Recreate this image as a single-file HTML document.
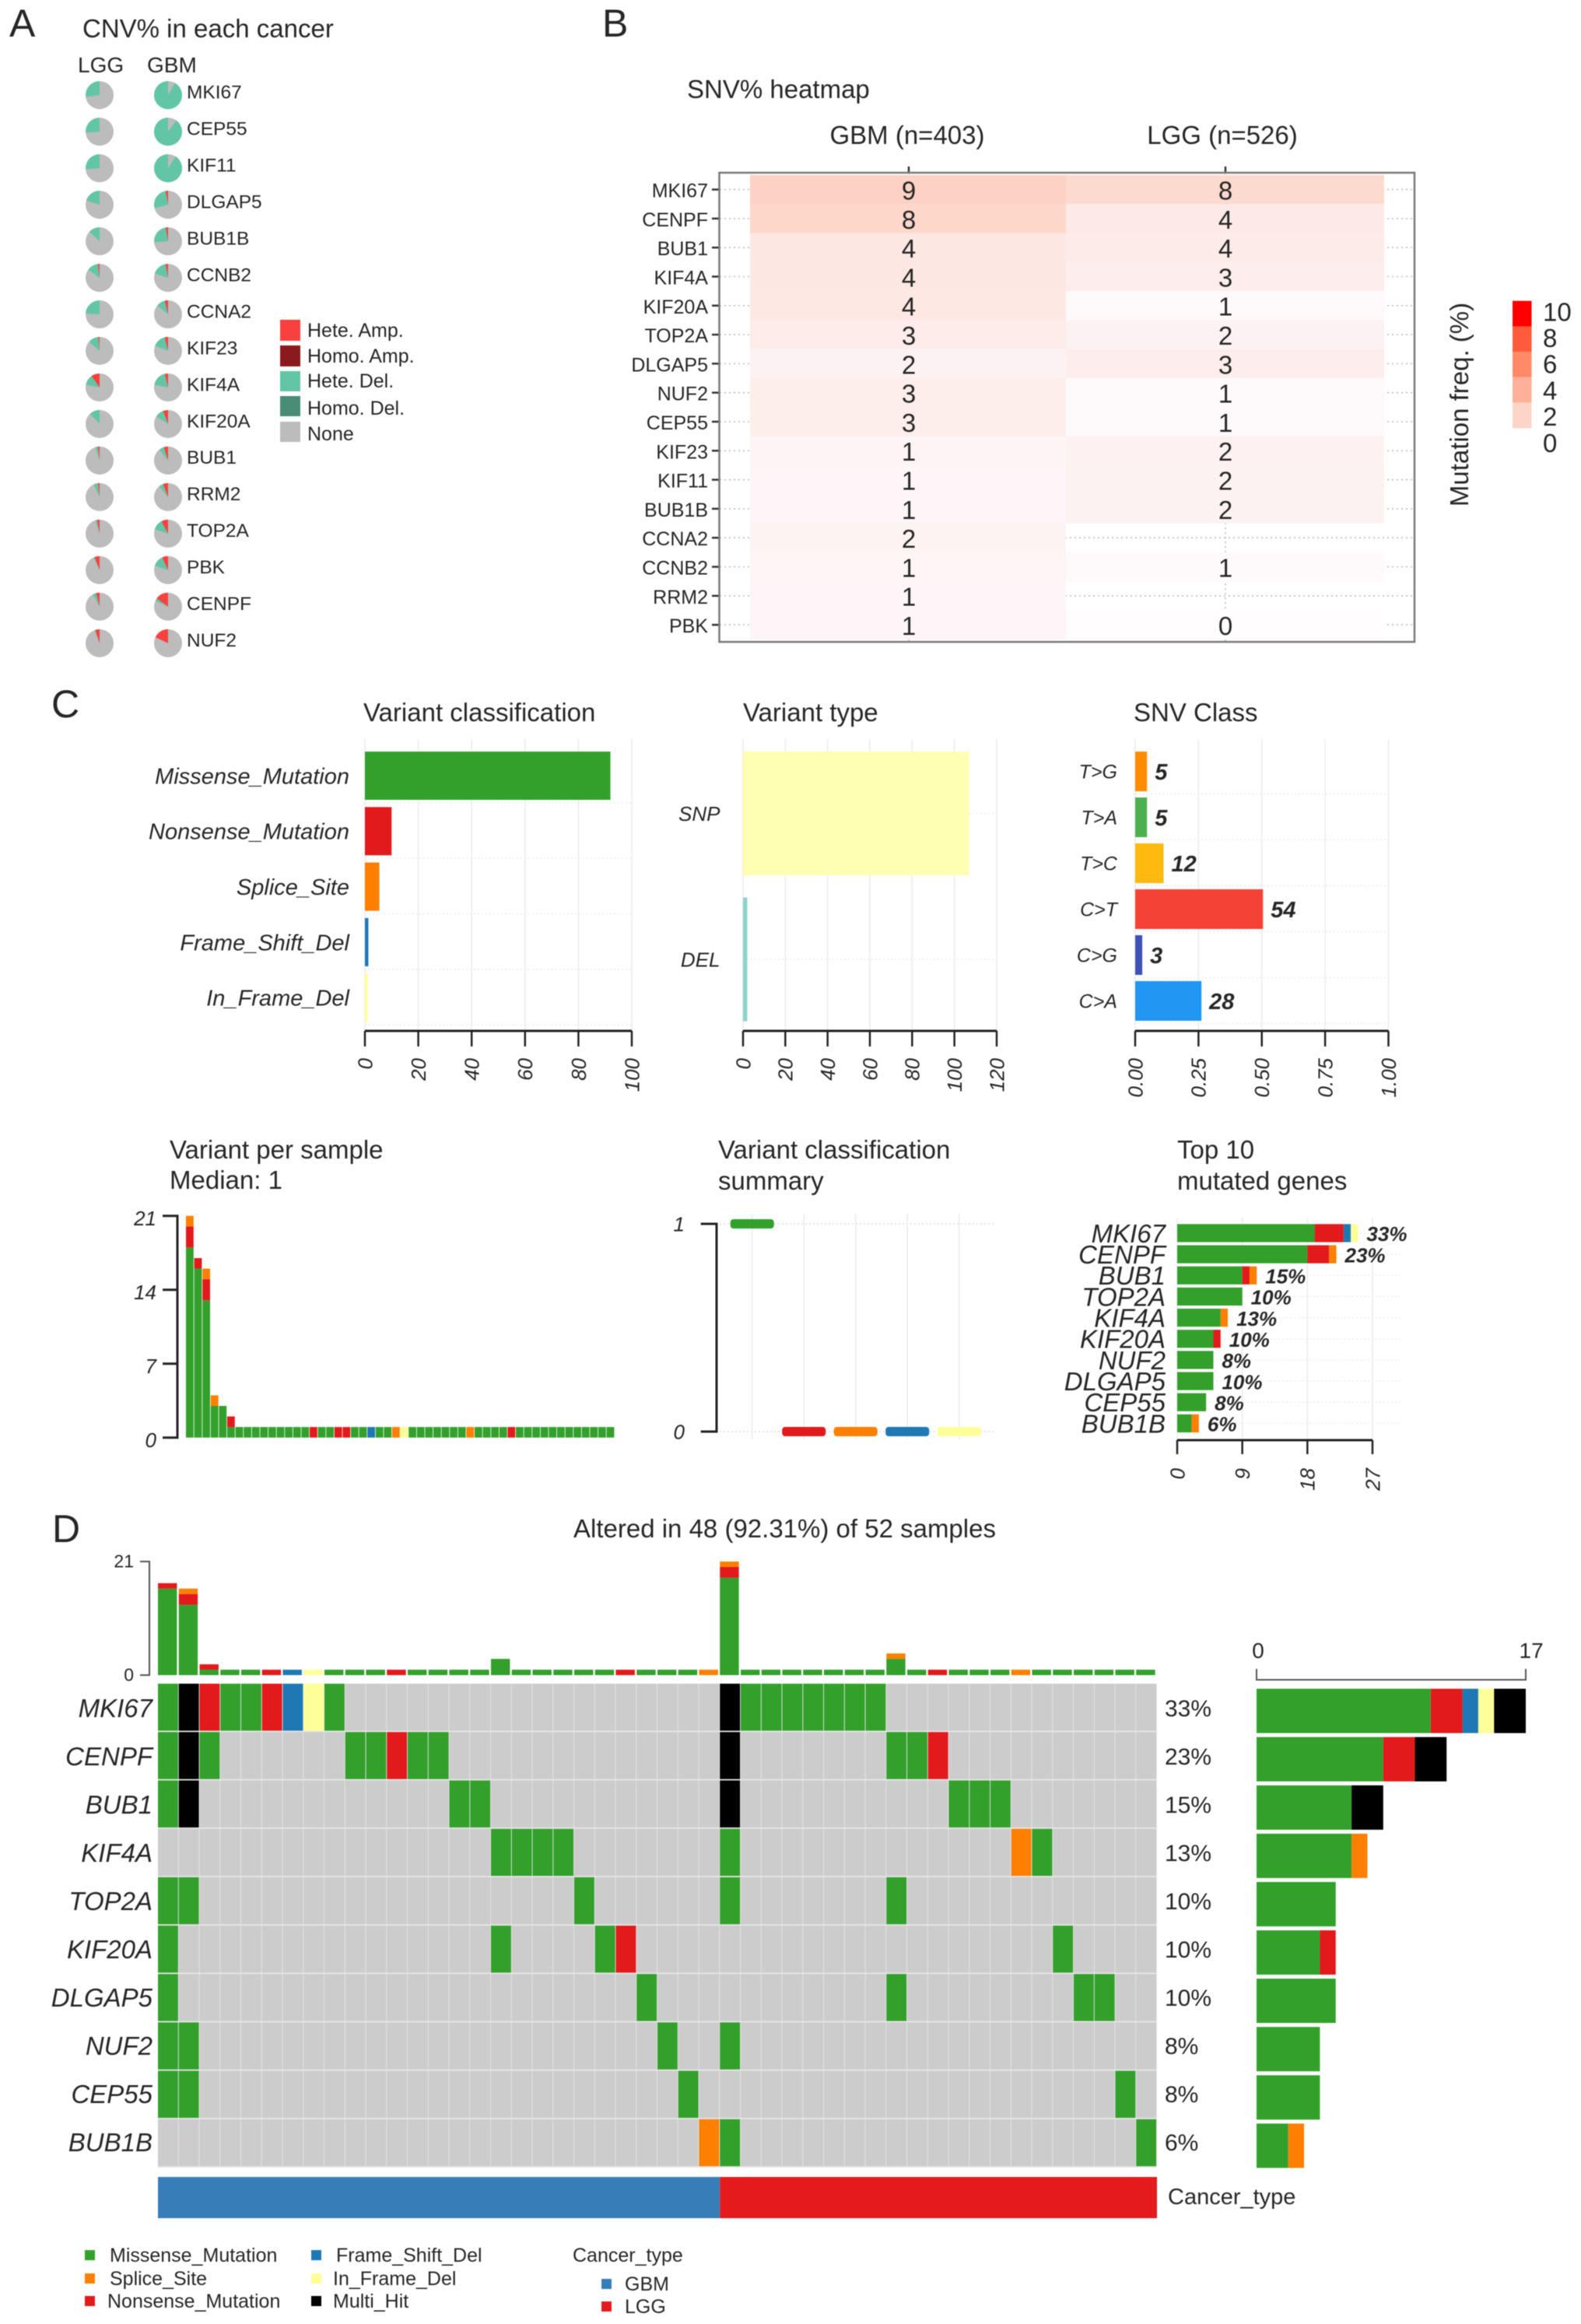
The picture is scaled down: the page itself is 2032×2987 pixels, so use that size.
<!DOCTYPE html>
<html lang="en">
<head>
<meta charset="utf-8">
<title>CNV and SNV summary figure</title>
<style>
html,body{margin:0;padding:0;background:#fff;overflow:hidden}
svg{display:block;filter:blur(0.6px)}
text{font-family:"Liberation Sans",Arial,sans-serif;fill:#262626}
</style>
</head>
<body>
<svg id="fig" xmlns="http://www.w3.org/2000/svg" width="2032" height="2987" viewBox="0 0 2032 2987">
<rect x="0" y="0" width="2032" height="2987" fill="#fff"/>

<text x="12" y="47" font-size="50">A</text>
<text x="774" y="47" font-size="50">B</text>
<text x="66" y="922" font-size="50">C</text>
<text x="67" y="1982" font-size="50">D</text>

<text x="106" y="48" font-size="33">CNV% in each cancer</text>
<text x="100" y="93" font-size="28">LGG</text>
<text x="189" y="93" font-size="28">GBM</text>
<g>
<rect x="360" y="411" width="26" height="27" fill="#f8403f"/>
<rect x="360" y="444" width="26" height="27" fill="#8a1a1e"/>
<rect x="360" y="477" width="26" height="26" fill="#62c6a6"/>
<rect x="360" y="509" width="26" height="26" fill="#4a8d76"/>
<rect x="360" y="542" width="26" height="26" fill="#bcbcbc"/>
<text x="395" y="433" font-size="25">Hete. Amp.</text>
<text x="395" y="466" font-size="25">Homo. Amp.</text>
<text x="395" y="498" font-size="25">Hete. Del.</text>
<text x="395" y="533" font-size="25">Homo. Del.</text>
<text x="395" y="566" font-size="25">None</text>
</g>

<text x="883" y="126" font-size="33">SNV% heatmap</text>
<text x="1166" y="185" font-size="33" text-anchor="middle">GBM (n=403)</text>
<text x="1571" y="185" font-size="33" text-anchor="middle">LGG (n=526)</text>
<text x="1887" y="520" font-size="33" text-anchor="middle" transform="rotate(-90 1887 520)">Mutation freq. (%)</text>

<text x="467" y="927" font-size="33">Variant classification</text>
<text x="955" y="927" font-size="33">Variant type</text>
<text x="1457" y="927" font-size="33">SNV Class</text>
<text x="218" y="1489" font-size="33">Variant per sample</text>
<text x="218" y="1528" font-size="33">Median: 1</text>
<text x="923" y="1489" font-size="33">Variant classification</text>
<text x="923" y="1529" font-size="33">summary</text>
<text x="1513" y="1489" font-size="33">Top 10</text>
<text x="1513" y="1529" font-size="33">mutated genes</text>

<text x="1008.5" y="1976" font-size="33" text-anchor="middle">Altered in 48 (92.31%) of 52 samples</text>
<text x="1501" y="2833" font-size="29">Cancer_type</text>

<g>
<rect x="109" y="2892" width="13" height="13" fill="#33a02c"/>
<rect x="109" y="2922" width="13" height="13" fill="#ff7f00"/>
<rect x="109" y="2951" width="13" height="13" fill="#e31a1c"/>
<rect x="400" y="2892" width="13" height="13" fill="#1f78b4"/>
<rect x="400" y="2922" width="13" height="13" fill="#ffff99"/>
<rect x="400" y="2951" width="13" height="13" fill="#000"/>
<rect x="773" y="2929" width="13" height="13" fill="#377eb8"/>
<rect x="773" y="2958" width="13" height="13" fill="#e41a1c"/>
<text x="141" y="2907" font-size="25">Missense_Mutation</text>
<text x="141" y="2937" font-size="25">Splice_Site</text>
<text x="138" y="2966" font-size="25">Nonsense_Mutation</text>
<text x="432" y="2907" font-size="25">Frame_Shift_Del</text>
<text x="428" y="2937" font-size="25">In_Frame_Del</text>
<text x="428" y="2966" font-size="25">Multi_Hit</text>
<text x="736" y="2907" font-size="25">Cancer_type</text>
<text x="803" y="2944" font-size="25">GBM</text>
<text x="803" y="2973" font-size="25">LGG</text>
</g>
<g id="charts"></g>
</svg>

<script>
/* ---------- Panel A data ---------- */
const pieGenes = ['MKI67','CEP55','KIF11','DLGAP5','BUB1B','CCNB2','CCNA2','KIF23','KIF4A','KIF20A','BUB1','RRM2','TOP2A','PBK','CENPF','NUF2'];
const lggHeteAmp = [0,0,0,0,0,0.02,0,0.015,0.1,0,0.02,0.02,0.03,0.06,0.04,0.05];
const lggHeteDel = [0.27,0.26,0.26,0.2,0.13,0.13,0.24,0.12,0.12,0.12,0.03,0.05,0.02,0.01,0.04,0.01];
const gbmHeteAmp = [0,0,0,0.03,0.03,0.03,0.04,0.04,0.04,0.06,0.05,0.06,0.08,0.07,0.15,0.18];
const gbmHeteDel = [0.92,0.9,0.91,0.26,0.23,0.17,0.1,0.15,0.18,0.1,0.06,0.05,0.12,0.13,0.03,0];

/* ---------- Panel B data ---------- */
const heatGenes = ['MKI67','CENPF','BUB1','KIF4A','KIF20A','TOP2A','DLGAP5','NUF2','CEP55','KIF23','KIF11','BUB1B','CCNA2','CCNB2','RRM2','PBK'];
const heatGbm = [9.4,8.4,4.4,4.4,4.2,3.2,1.7,2.9,2.8,1.2,1,1,1.6,1.1,1,1];
const heatLgg = [7.6,3.6,3.5,2.6,0.6,1.7,2.7,0.6,0.6,1.9,1.8,1.8,null,0.5,null,0.2];
const colorbarTicks = ['10','8','6','4','2','0'];
const colorbarColors = ['#ff0000','#fe5a3c','#ff8a68','#ffb09a','#fdd5c8'];

/* ---------- Panel C data ---------- */
const classNames = ['Missense_Mutation','Nonsense_Mutation','Splice_Site','Frame_Shift_Del','In_Frame_Del'];
const classCounts = [92,10,5.4,1.3,1];
const classColors = ['#33a02c','#e31a1c','#ff7f00','#1f78b4','#ffff99'];
const classTicks = [0,20,40,60,80,100];
const typeNames = ['SNP','DEL'];
const typeCounts = [107,2];
const typeColors = ['#ffffb3','#8dd3c7'];
const typeTicks = [0,20,40,60,80,100,120];
const snvNames = ['T>G','T>A','T>C','C>T','C>G','C>A'];
const snvCounts = [5,5,12,54,3,28];
const snvColors = ['#ff8c00','#4caf50','#ffb90f','#f44336','#3f51b5','#2196f3'];
const snvTicks = ['0.00','0.25','0.50','0.75','1.00'];

const vpsTicks = [0,7,14,21];
const vpsMissense = [18,16,13,3,3,1,1,1,1,1, 1,1,1,1,1,0,1,1,0,0, 1,1,0,1,1,0,0,1,1,1, 1,1,1,1,0,1,1,1,1,0, 1,1,1,1,1,1,1,1,1,1, 1,1];
const vpsNonsense = [2,1,2,0,0,1,0,0,0,0, 0,0,0,0,0,1,0,0,1,1, 0,0,0,0,0,0,0,0,0,0, 0,0,0,0,0,0,0,0,0,1, 0,0,0,0,0,0,0,0,0,0, 0,0];
const vpsSplice = [1,0,1,1,0,0,0,0,0,0, 0,0,0,0,0,0,0,0,0,0, 0,0,0,0,0,1,0,0,0,0, 0,0,0,0,1,0,0,0,0,0, 0,0,0,0,0,0,0,0,0,0, 0,0];
const vpsFrameShift = [0,0,0,0,0,0,0,0,0,0, 0,0,0,0,0,0,0,0,0,0, 0,0,1,0,0,0,0,0,0,0, 0,0,0,0,0,0,0,0,0,0, 0,0,0,0,0,0,0,0,0,0, 0,0];
const vpsInFrame = [0,0,0,0,0,0,0,0,0,0, 0,0,0,0,0,0,0,0,0,0, 0,0,0,0,0,0,1,0,0,0, 0,0,0,0,0,0,0,0,0,0, 0,0,0,0,0,0,0,0,0,0, 0,0];

const summaryMedians = [1,0,0,0,0];
const summaryColors = ['#33a02c','#e31a1c','#ff7f00','#1f78b4','#ffff99'];
const summaryTicks = [0,1];

const topGenes = ['MKI67','CENPF','BUB1','TOP2A','KIF4A','KIF20A','NUF2','DLGAP5','CEP55','BUB1B'];
const topMissense = [19,18,9,9,6,5,5,5,4,2];
const topNonsense = [4,3,1,0,0,1,0,0,0,0];
const topSplice = [0,1,1,0,1,0,0,0,0,1];
const topFrameShift = [1,0,0,0,0,0,0,0,0,0];
const topInFrame = [1,0,0,0,0,0,0,0,0,0];
const topPercents = ['33%','23%','15%','10%','13%','10%','8%','10%','8%','6%'];
const topTicks = [0,9,18,27];

/* ---------- Panel D data ---------- */
const oncoGenes = ['MKI67','CENPF','BUB1','KIF4A','TOP2A','KIF20A','DLGAP5','NUF2','CEP55','BUB1B'];
const oncoPercents = ['33%','23%','15%','13%','10%','10%','10%','8%','8%','6%'];
const oncoCalls = [
  {M:[0,3,4,8,28,29,30,31,32,33,34],X:[1,27],N:[2,5],F:[6],I:[7]},
  {M:[0,2,9,10,12,13,35,36],X:[1,27],N:[11,37]},
  {M:[0,14,15,38,39,40],X:[1,27]},
  {M:[16,17,18,19,27,42],S:[41]},
  {M:[0,1,20,27,35]},
  {M:[0,16,21,43],N:[22]},
  {M:[0,23,35,44,45]},
  {M:[0,1,24,27]},
  {M:[0,1,25,46]},
  {M:[27,47],S:[26]}
];
const oncoColumnCount = 48;
const gbmColumnCount = 27;
const sampleMissense = [16,13,1,1,1,0,0,0,1,1,1,0,1,1,1,1,3,1,1,1,1,1,0,1,1,1,0,18,1,1,1,1,1,1,1,3,1,0,1,1,1,0,1,1,1,1,1,1];
const sampleNonsense = [1,2,1,0,0,1,0,0,0,0,0,1,0,0,0,0,0,0,0,0,0,0,1,0,0,0,0,2,0,0,0,0,0,0,0,0,0,1,0,0,0,0,0,0,0,0,0,0];
const sampleSplice = [0,1,0,0,0,0,0,0,0,0,0,0,0,0,0,0,0,0,0,0,0,0,0,0,0,0,1,1,0,0,0,0,0,0,0,1,0,0,0,0,0,1,0,0,0,0,0,0];
const sampleFrameShift = [0,0,0,0,0,0,1,0,0,0,0,0,0,0,0,0,0,0,0,0,0,0,0,0,0,0,0,0,0,0,0,0,0,0,0,0,0,0,0,0,0,0,0,0,0,0,0,0];
const sampleInFrame = [0,0,0,0,0,0,0,1,0,0,0,0,0,0,0,0,0,0,0,0,0,0,0,0,0,0,0,0,0,0,0,0,0,0,0,0,0,0,0,0,0,0,0,0,0,0,0,0];
const sampleAxisTicks = [0,21];
const geneMissense = [11,8,6,6,5,4,5,4,4,2];
const geneNonsense = [2,2,0,0,0,1,0,0,0,0];
const geneFrameShift = [1,0,0,0,0,0,0,0,0,0];
const geneInFrame = [1,0,0,0,0,0,0,0,0,0];
const geneSplice = [0,0,0,1,0,0,0,0,0,1];
const geneMultiHit = [2,2,2,0,0,0,0,0,0,0];
const geneAxisTicks = [0,17];

/* ---------- helpers ---------- */
const NS = 'http://www.w3.org/2000/svg';
const root = document.getElementById('charts');
const COL = {M:'#33a02c',N:'#e31a1c',S:'#ff7f00',F:'#1f78b4',I:'#ffff99',X:'#000000'};
const INK = '#222222';
const GRID = '#ececec';

function shape(tag, props) {
  const node = document.createElementNS(NS, tag);
  Object.keys(props).forEach(k => node.setAttribute(k, props[k]));
  root.appendChild(node);
  return node;
}
function rect(x, y, w, h, fill) {
  return shape('rect', {x: x, y: y, width: w, height: h, fill: fill});
}
function line(x1, y1, x2, y2, stroke, sw, dash) {
  const props = {x1: x1, y1: y1, x2: x2, y2: y2, stroke: stroke, 'stroke-width': sw};
  if (dash) props['stroke-dasharray'] = dash;
  return shape('line', props);
}
function label(x, yc, str, size, anchor, style, weight) {
  const node = shape('text', {x: x, y: yc + size * 0.36, 'font-size': size, 'text-anchor': anchor || 'start'});
  if (style) node.setAttribute('font-style', style);
  if (weight) node.setAttribute('font-weight', weight);
  node.textContent = str;
  return node;
}
function rotLabel(x, yTop, str, size) {
  const bx = x + size * 0.36;
  const node = shape('text', {x: bx, y: yTop, 'font-size': size, 'text-anchor': 'end', 'font-style': 'italic', transform: 'rotate(-90 ' + bx + ' ' + yTop + ')'});
  node.textContent = str;
  return node;
}
function lin(d0, d1, r0, r1) {
  return v => r0 + (v - d0) / (d1 - d0) * (r1 - r0);
}
function wedge(cx, cy, r, from, to, fill) {
  const a0 = from * 2 * Math.PI, a1 = to * 2 * Math.PI;
  const large = (to - from) > 0.5 ? 1 : 0;
  const x0 = cx - r * Math.sin(a0), y0 = cy - r * Math.cos(a0);
  const x1 = cx - r * Math.sin(a1), y1 = cy - r * Math.cos(a1);
  return shape('path', {d: 'M' + cx + ' ' + cy + 'L' + x0 + ' ' + y0 + 'A' + r + ' ' + r + ' 0 ' + large + ' 0 ' + x1 + ' ' + y1 + 'Z', fill: fill});
}

/* ---------- Panel A ---------- */
const pieY = i => 122.3 + 46.96 * i;
function drawPie(cx, cy, amp, del, prefix) {
  const base = shape('circle', {cx: cx, cy: cy, r: 18, fill: '#bcbcbc'});
  
  
  if (amp > 0) {
    const a = wedge(cx, cy, 18, 0, amp, '#f8403f');
    
    
  }
  if (del > 0) {
    const d = wedge(cx, cy, 18, amp, amp + del, '#62c6a6');
    
    
  }
}
pieGenes.forEach((g, i) => {
  drawPie(128, pieY(i), lggHeteAmp[i], lggHeteDel[i], 'lgg-' + g.toLowerCase());
  drawPie(216, pieY(i), gbmHeteAmp[i], gbmHeteDel[i], 'gbm-' + g.toLowerCase());
  const t = label(240, pieY(i) - 4.5, g, 24.5);
  
  
});

/* ---------- Panel B ---------- */
const heatY = i => 243.6 + 37.3 * i;
const heatColX = [964, 1370];
const heatColW = [406, 409];
const heatColC = [1168, 1575];
function heatColor(v) {
  if (v <= 1) {
    return 'rgb(' + Math.round(255 - 2 * v) + ',' + Math.round(255 - 10 * v) + ',' + Math.round(255 - 8 * v) + ')';
  }
  const t = (Math.min(v, 10) - 1) / 9;
  return 'rgb(' + Math.round(253 - 1 * t) + ',' + Math.round(245 - 37 * t) + ',' + Math.round(247 - 55 * t) + ')';
}
heatGenes.forEach((g, i) => {
  const gl = line(925, heatY(i), 1818, heatY(i), '#bdbdbd', 1.6, '2 4');
  
  
  const tk = line(915, heatY(i), 924, heatY(i), '#333', 2.5);
  
  
  const t = label(910, heatY(i) + 1, g, 25, 'end');
  
  
});
heatColC.forEach(x => {
  const gl = line(x, 222, x, 825, '#bdbdbd', 1.6, '2 4');
  
  
  const tk = line(x, 214, x, 222, '#333', 2.5);
  
  
});
[heatGbm, heatLgg].forEach((series, c) => {
  series.forEach((v, i) => {
    if (v === null) return;
    const cell = rect(heatColX[c], heatY(i) - 18.65, heatColW[c], 37.4, heatColor(v));
    
    
    const t = label(heatColC[c], heatY(i) + 1, String(Math.round(v)), 33, 'middle');
    
    
  });
});
const heatBox = shape('rect', {x: 924.5, y: 222, width: 893.5, height: 603, fill: 'none', stroke: '#7a7a7a', 'stroke-width': 2.5});


const cbY = lin(0, 5, 386.7, 550);
colorbarColors.forEach((c, i) => {
  const s = rect(1944, cbY(i), 24.5, cbY(i + 1) - cbY(i) + 0.3, c);
  
  
});
colorbarTicks.forEach((v, i) => {
  const t = label(1983, 400.4 + 33.7 * i, v, 33);
  
  
});

/* ---------- Panel C: top row ---------- */
function xAxis(scale, ticks, values, y, tickLen, labelTop, size, prefix) {
  const axis = line(scale(values[0]), y, scale(values[values.length - 1]), y, INK, 3);
  
  
  values.forEach((v, i) => {
    const tk = line(scale(v), y, scale(v), y + tickLen, INK, 2.5);
    
    
    const t = rotLabel(scale(v), labelTop, String(ticks[i]), size);
    
    
  });
}
function vGrid(scale, values, y0, y1, prefix) {
  values.forEach(v => {
    const g = line(scale(v), y0, scale(v), y1, GRID, 1.5);
    
    
  });
}

const classX = lin(0, 100, 469, 812);
const classY = i => 997 + 71.3 * i;
vGrid(classX, classTicks, 950, 1325, 'variant-classification');
classNames.forEach((n, i) => {
  const g = line(469, classY(i) + 35, 812, classY(i) + 35, GRID, 1.5, '2 3');
  
  
  const b = rect(469, classY(i) - 31, classX(classCounts[i]) - 469, 62, classColors[i]);
  
  
  const t = label(449, classY(i), n, 29, 'end', 'italic');
  
  
});
xAxis(classX, classTicks, classTicks, 1325, 20, 1360, 26, 'variant-classification');

const typeX = lin(0, 120, 955, 1281);
const typeY = i => 1045.5 + 187.5 * i;
vGrid(typeX, typeTicks, 950, 1325, 'variant-type');
typeNames.forEach((n, i) => {
  const g = line(955, typeY(i), 1281, typeY(i), GRID, 1.5, '2 3');
  
  
  const b = rect(955, typeY(i) - 79.5, typeX(typeCounts[i]) - 955, 159, typeColors[i]);
  
  
  const t = label(925.5, typeY(i), n, 26, 'end', 'italic');
  
  
});
xAxis(typeX, typeTicks, typeTicks, 1325, 20, 1360, 26, 'variant-type');

const snvTotal = snvCounts.reduce((a, b) => a + b, 0);
const snvX = lin(0, 1, 1459, 1784.5);
const snvY = i => 991.5 + 59 * i;
const snvTickValues = snvTicks.map(Number);
vGrid(snvX, snvTickValues, 950, 1325, 'snv-class');
snvNames.forEach((n, i) => {
  const g = line(1459, snvY(i) + 29, 1784, snvY(i) + 29, GRID, 1.5, '2 3');
  
  
  const x1 = snvX(snvCounts[i] / snvTotal);
  const b = rect(1459, snvY(i) - 25.5, x1 - 1459, 51, snvColors[i]);
  
  
  const t = label(1436, snvY(i), n, 25, 'end', 'italic');
  
  
  const c = label(x1 + 10, snvY(i), String(snvCounts[i]), 29, 'start', 'italic', 'bold');
  
  
});
xAxis(snvX, snvTicks, snvTickValues, 1325, 20, 1360, 26, 'snv-class');

/* ---------- Panel C: variants per sample ---------- */
const vpsY = lin(0, 21, 1847.7, 1562.7);
const vpsX = i => 239 + i * 10.6;
const vpsLayers = [[vpsMissense, COL.M], [vpsNonsense, COL.N], [vpsSplice, COL.S], [vpsFrameShift, COL.F], [vpsInFrame, COL.I]];
vpsMissense.forEach((_, i) => {
  let acc = 0;
  vpsLayers.forEach(layer => {
    const v = layer[0][i];
    if (!v) return;
    const b = rect(vpsX(i), vpsY(acc + v), 9.8, vpsY(acc) - vpsY(acc + v), layer[1]);
    
    
    acc += v;
  });
});
const vpsAxis = line(228, vpsY(21), 228, vpsY(0), INK, 3);


vpsTicks.forEach(v => {
  const tk = line(209, vpsY(v), 229.5, vpsY(v), INK, 3);
  
  
  const t = label(201, vpsY(v) + 3, String(v), 26, 'end', 'italic');
  
  
});

/* ---------- Panel C: classification summary ---------- */
const sumY = lin(0, 1, 1840, 1573);
const sumX = i => 966.7 + 66.5 * i;
summaryTicks.forEach(v => {
  const g = line(925, sumY(v), 1280, sumY(v), '#dddddd', 1.5, '2 3');
  
  
});
summaryMedians.forEach((v, i) => {
  const g = line(sumX(i), 1560, sumX(i), 1850, GRID, 1.5);
  
  
  const b = shape('rect', {x: sumX(i) - 28, y: sumY(v) - 6, width: 56, height: 12, rx: 4, fill: summaryColors[i]});
  
  
});
const sumAxis = line(921, sumY(1), 921, sumY(0), INK, 3);


summaryTicks.forEach(v => {
  const tk = line(900.7, sumY(v), 922.5, sumY(v), INK, 3);
  
  
  const t = label(880, sumY(v), String(v), 26, 'end', 'italic');
  
  
});

/* ---------- Panel C: top 10 genes ---------- */
const topX = lin(0, 27, 1513, 1764);
const topY = i => 1573.3 + 27.17 * i;
const topLayers = [[topMissense, COL.M], [topNonsense, COL.N], [topSplice, COL.S], [topFrameShift, COL.F], [topInFrame, COL.I]];
vGrid(topX, topTicks, 1565, 1851, 'top-genes');
topGenes.forEach((g, i) => {
  const gl = line(1513, topY(i) + 11.6, 1800, topY(i) + 11.6, GRID, 1.5, '2 3');
  
  
  let acc = 0;
  topLayers.forEach(layer => {
    const v = layer[0][i];
    if (!v) return;
    const b = rect(topX(acc), topY(i), topX(acc + v) - topX(acc), 23.2, layer[1]);
    
    
    acc += v;
  });
  const t = label(1498, topY(i) + 11.6, g, 33, 'end', 'italic');
  
  
  const p = label(topX(acc) + 11, topY(i) + 12.5, topPercents[i], 26, 'start', 'italic', 'bold');
  
  
});
xAxis(topX, topTicks, topTicks, 1851, 18, 1887, 26, 'top-genes');

/* ---------- Panel D ---------- */
const oncoX = i => 203 + i * (1284 / oncoColumnCount);
const oncoColW = 1284 / oncoColumnCount;
const oncoRowY = r => 2164 + 62.2 * r;
const gridBg = rect(203, 2164, 1284, 622, '#e6e6e6');


oncoGenes.forEach((g, r) => {
  const lookup = {};
  Object.keys(oncoCalls[r]).forEach(type => {
    oncoCalls[r][type].forEach(col => { lookup[col] = type; });
  });
  for (let c = 0; c < oncoColumnCount; c++) {
    const fill = lookup[c] ? COL[lookup[c]] : '#cccccc';
    const cell = rect(oncoX(c), oncoRowY(r), oncoColW - 0.9, 60.4, fill);
    
    
  }
  const t = label(196, 2195 + 62 * r, g, 33, 'end', 'italic');
  
  
  const p = label(1497, 2195 + 62 * r, oncoPercents[r], 30);
  
  
});

const annGbm = rect(oncoX(0), 2798, oncoX(gbmColumnCount) - oncoX(0), 53, '#377eb8');


const annLgg = rect(oncoX(gbmColumnCount), 2798, oncoX(oncoColumnCount) - oncoX(gbmColumnCount), 53, '#e41a1c');



const sampleY = lin(0, 21, 2153, 2007);
const sampleLayers = [[sampleMissense, COL.M], [sampleNonsense, COL.N], [sampleSplice, COL.S], [sampleFrameShift, COL.F], [sampleInFrame, COL.I]];
sampleMissense.forEach((_, c) => {
  let acc = 0;
  sampleLayers.forEach(layer => {
    const v = layer[0][c];
    if (!v) return;
    const b = rect(oncoX(c), sampleY(acc + v), 24.4, sampleY(acc) - sampleY(acc + v), layer[1]);
    
    
    acc += v;
  });
});
const sAxis = line(192, sampleY(21), 192, sampleY(0), '#555', 2);


sampleAxisTicks.forEach(v => {
  const tk = line(180, sampleY(v), 193, sampleY(v), '#555', 2);
  
  
  const t = label(172, sampleY(v) - 1, String(v), 23, 'end');
  
  
});

const geneX = lin(0, 17, 1615, 1961);
const geneBarY = r => 2170.5 + 62.1 * r;
const geneLayers = [[geneMissense, COL.M], [geneSplice, COL.S], [geneNonsense, COL.N], [geneFrameShift, COL.F], [geneInFrame, COL.I], [geneMultiHit, COL.X]];
oncoGenes.forEach((g, r) => {
  let acc = 0;
  geneLayers.forEach(layer => {
    const v = layer[0][r];
    if (!v) return;
    const b = rect(geneX(acc), geneBarY(r), geneX(acc + v) - geneX(acc), 57, layer[1]);
    
    
    acc += v;
  });
});
const gAxis = line(geneX(0), 2159, geneX(17), 2159, '#555', 2);


geneAxisTicks.forEach(v => {
  const tk = line(geneX(v), 2145, geneX(v), 2160, '#555', 2);
  
  
  const t = label(geneX(v) + 2 + v * 0.3, 2121, String(v), 28, 'middle');
  
  
});
</script>
</body>
</html>
